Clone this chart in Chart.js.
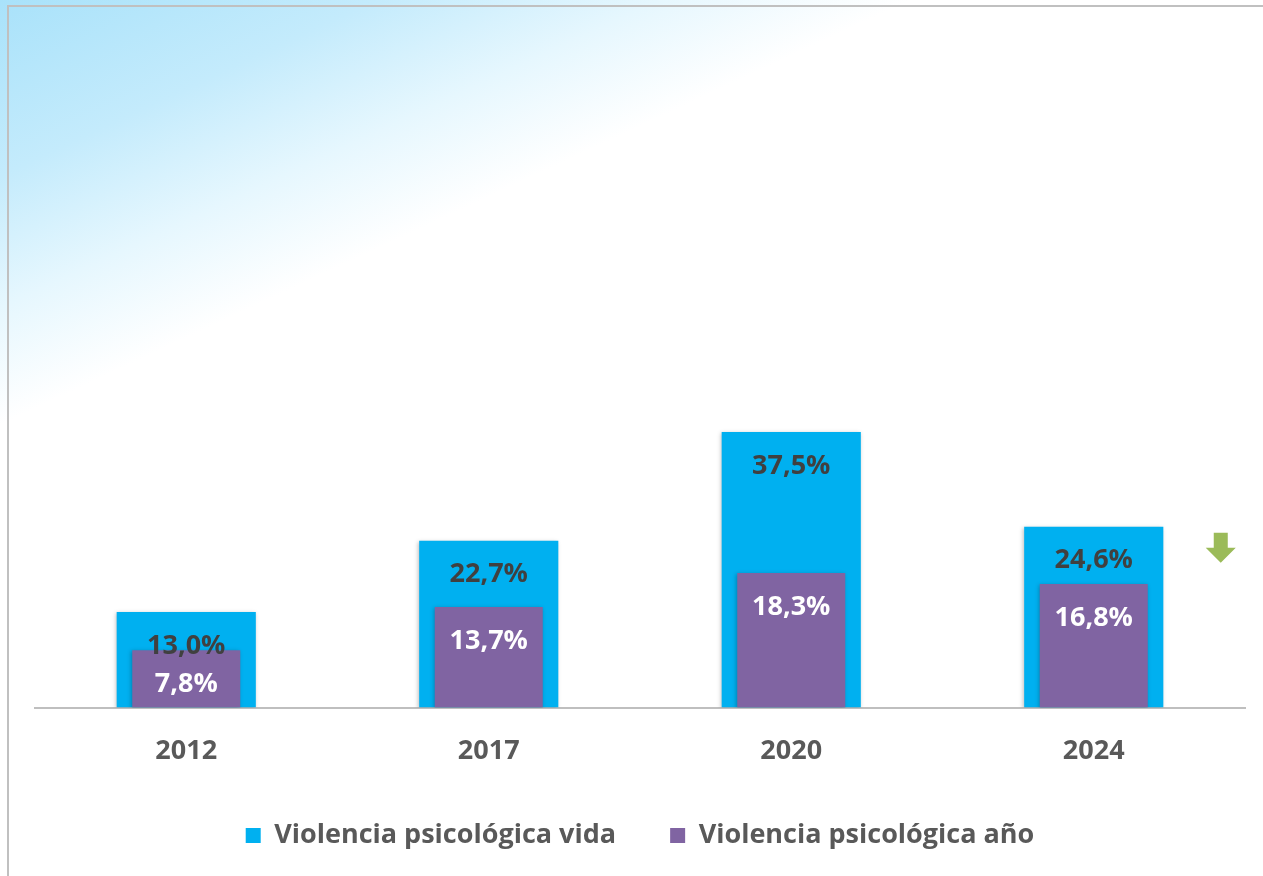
<!DOCTYPE html>
<html lang="es">
<head>
  <meta charset="UTF-8">
  <title>Violencia psicológica</title>
  <script src="https://cdn.jsdelivr.net/npm/chart.js"></script>
  <style>
    body {
      margin: 0;
      padding: 0;
      background: #fff;
    }
    .wrap {
      position: relative;
      width: 1263px;
      height: 876px;
      overflow: hidden;
      background: linear-gradient(155deg, #a9e2fa 0%, #c4ebfc 12%, #e6f7fe 21%, #ffffff 29%);
    }
    .frame {
      position: absolute;
      left: 7px;
      top: 5px;
      width: 1300px;
      height: 900px;
      border: 2px solid #c0c0c0;
      pointer-events: none;
    }
  </style>
</head>
<body>
  <div class="wrap">
    <canvas id="chart"></canvas>
    <div class="frame"></div>
  </div>

  <script>
    const years = ['2012', '2017', '2020', '2024'];
    const vidaValues = [13.0, 22.7, 37.5, 24.6];
    const anoValues = [7.8, 13.7, 18.3, 16.8];
    const seriesNames = ['Violencia psicológica vida', 'Violencia psicológica año'];

    const FONT = '"Open Sans", "DejaVu Sans", sans-serif';

    function fmt(v) {
      return v.toFixed(1).replace('.', ',') + '%';
    }

    // soft shadow under the bars, like the office chart
    const barShadow = {
      id: 'barShadow',
      beforeDatasetDraw(chart) {
        const ctx = chart.ctx;
        ctx.save();
        ctx.shadowColor = 'rgba(0,0,0,0.25)';
        ctx.shadowBlur = 4;
        ctx.shadowOffsetX = -1;
        ctx.shadowOffsetY = 1;
      },
      afterDatasetDraw(chart) {
        chart.ctx.restore();
      }
    };

    // value labels inside the bars, near the top
    const barLabels = {
      id: 'barLabels',
      afterDatasetsDraw(chart) {
        const ctx = chart.ctx;
        ctx.save();
        ctx.font = 'bold 27px ' + FONT;
        ctx.textAlign = 'center';
        ctx.textBaseline = 'middle';
        chart.data.datasets.forEach((ds, i) => {
          const meta = chart.getDatasetMeta(i);
          ctx.fillStyle = ds.labelColor;
          meta.data.forEach((bar, j) => {
            ctx.fillText(fmt(ds.data[j]), bar.x, bar.y + 34);
          });
        });
        ctx.restore();
      }
    };

    // green down arrow next to the last pair of bars
    const downArrow = {
      id: 'downArrow',
      afterDatasetsDraw(chart) {
        const ctx = chart.ctx;
        const bar = chart.getDatasetMeta(0).data[3];
        const cx = bar.x + 127;
        const top = bar.y + 6;
        ctx.save();
        ctx.fillStyle = '#9bbb59';
        ctx.beginPath();
        ctx.moveTo(cx - 7, top);
        ctx.lineTo(cx + 7, top);
        ctx.lineTo(cx + 7, top + 15);
        ctx.lineTo(cx + 15, top + 15);
        ctx.lineTo(cx, top + 30);
        ctx.lineTo(cx - 15, top + 15);
        ctx.lineTo(cx - 7, top + 15);
        ctx.closePath();
        ctx.fill();
        ctx.restore();
      }
    };

    new Chart(document.getElementById('chart'), {
      type: 'bar',
      data: {
        labels: years,
        datasets: [{
          label: seriesNames[0],
          data: vidaValues,
          backgroundColor: '#00b0f0',
          labelColor: '#404040',
          barPercentage: 0.46,
          categoryPercentage: 1,
          grouped: false,
          order: 2
        }, {
          label: seriesNames[1],
          data: anoValues,
          backgroundColor: '#8064a2',
          labelColor: '#ffffff',
          barPercentage: 0.357,
          categoryPercentage: 1,
          grouped: false,
          order: 1
        }]
      },
      options: {
        responsive: true,
        maintainAspectRatio: false,
        animation: false,
        layout: {
          padding: { left: 35, right: 18, top: 46, bottom: 17 }
        },
        scales: {
          x: {
            grid: { display: false, drawTicks: false },
            border: { display: true, color: '#bfbfbf', width: 2 },
            ticks: {
              color: '#595959',
              padding: 28,
              font: { family: FONT, size: 27, weight: 'bold' }
            }
          },
          y: {
            display: false,
            min: 0,
            max: 90
          }
        },
        plugins: {
          tooltip: { enabled: false },
          legend: {
            position: 'bottom',
            reverse: true,
            labels: {
              color: '#595959',
              boxWidth: 15,
              boxHeight: 15,
              padding: 26,
              font: { family: FONT, size: 27, weight: 'bold' },
              // extra gap after the first entry (padding alone would also push it down)
              generateLabels(chart) {
                const items = Chart.defaults.plugins.legend.labels.generateLabels(chart);
                items.forEach(it => {
                  if (it.text === seriesNames[0]) it.text += '    ';
                });
                return items;
              }
            }
          }
        }
      },
      plugins: [barShadow, barLabels, downArrow]
    });
  </script>
</body>
</html>
